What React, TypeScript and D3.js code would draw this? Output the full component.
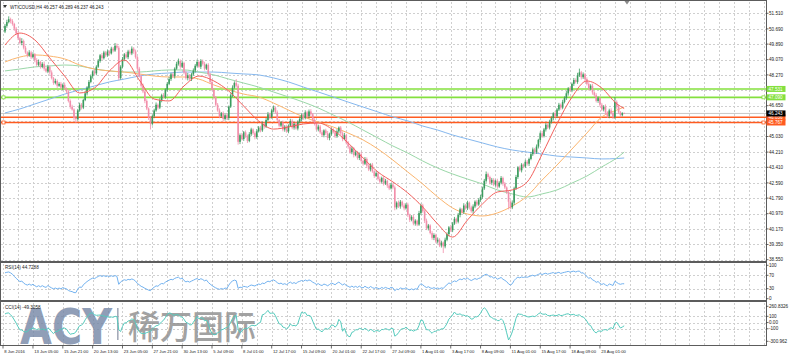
import React from "react";
import * as d3 from "d3";

const symbolTitle = "WTICOUSD,H4 46.257 46.289 46.237 46.243";
const rsiTitle = "RSI(14) 44.7288";
const cciTitle = "CCI(14) -49.3058";

// closes before the first visible bar (indicator warm-up only)
const priorCloses = [48.95, 49.2, 49.1, 49.45, 49.6, 49.35, 49.7, 49.9, 49.75, 50.05, 50.2, 50.0, 50.3, 50.45, 50.35, 50.55];
const firstOpen = 50.55;

const closes = [
  50.85, 51.05, 51.2, 51.1, 50.95, 50.7, 50.45, 50.2, 49.95, 50.05,
  49.7, 49.45, 49.3, 49.45, 49.2, 49.35, 49.05, 48.8, 48.95, 48.7,
  48.85, 48.6, 48.45, 48.7, 48.4, 48.1, 47.85, 47.95, 47.7, 47.8,
  47.6, 47.75, 47.55, 47.4, 46.9, 46.6, 46.45, 46.0, 45.95, 46.4,
  46.7, 46.55, 46.95, 47.3, 47.6, 47.9, 48.2, 48.45, 48.35, 48.7,
  49.0, 49.3, 49.15, 49.45, 49.3, 49.5, 49.4, 49.65, 49.55, 49.8,
  49.7, 48.1, 48.7, 49.1, 49.35, 49.2, 49.5, 49.4, 49.65, 49.5,
  49.2, 48.6, 48.2, 47.7, 47.4, 46.9, 46.5, 46.0, 45.7, 46.1,
  46.4, 46.7, 46.55, 46.95, 47.2, 47.1, 47.5, 47.8, 48.05, 48.3,
  48.2, 48.6, 48.85, 49.0, 48.7, 48.9, 48.4, 48.1, 48.25, 48.05,
  48.3, 48.5, 48.75, 48.95, 48.7, 49.0, 48.85, 48.6, 48.8, 48.3,
  47.9, 47.5, 47.1, 46.7, 46.4, 46.1, 46.25, 45.95, 46.15, 46.0,
  46.6, 47.2, 47.6, 47.85, 47.7, 44.75, 45.1, 44.9, 45.25, 45.05,
  44.8, 45.15, 45.4, 45.2, 45.0, 45.3, 45.5, 45.35, 45.7, 45.55,
  45.9, 46.2, 46.05, 46.4, 46.55, 46.3, 45.9, 45.6, 45.75, 45.4,
  45.55, 45.3, 45.6, 45.85, 45.5, 45.7, 45.45, 45.8, 45.95, 46.15,
  46.0, 46.3, 46.1, 46.35, 46.2, 45.9, 45.7, 45.4, 45.55, 45.25,
  45.1, 45.35, 45.2, 44.95, 45.15, 45.4, 45.25, 45.05, 45.3, 45.5,
  45.2, 44.9, 45.1, 44.7, 44.5, 44.2, 44.4, 44.05, 44.2, 43.9,
  44.1, 43.75, 43.6, 43.85, 43.5, 43.3, 43.55, 43.2, 42.95, 43.1,
  42.8, 42.65, 42.85, 42.55, 42.7, 42.45, 42.3, 42.5, 42.35, 41.3,
  41.55, 41.35, 41.6, 41.4, 41.25, 41.45, 40.9, 40.65, 40.8, 40.45,
  40.6, 40.4, 41.0, 41.4, 41.1, 40.6, 40.2, 40.35, 39.95, 39.7,
  39.85, 39.5, 39.6, 39.3, 39.45, 39.25, 39.6, 39.9, 40.25, 40.1,
  40.45, 40.7, 40.55, 40.9, 41.2, 41.05, 41.4, 41.25, 41.55, 41.3,
  41.1, 41.35, 41.6, 41.45, 41.7, 41.85, 42.3, 42.7, 43.05, 42.9,
  42.6, 42.75, 42.5, 42.7, 42.4, 42.6, 42.85, 42.55, 42.35, 42.1,
  41.6, 41.3, 41.55, 42.3, 42.9, 43.4, 43.25, 43.55, 43.45, 43.7,
  43.6, 43.85, 44.1, 44.35, 44.2, 44.5, 44.85, 45.2, 45.05, 45.4,
  45.65, 45.5, 45.8, 46.0, 46.25, 46.1, 46.45, 46.7, 46.55, 46.85,
  47.05, 47.3, 47.55, 47.45, 47.8, 48.0, 47.9, 48.25, 48.4, 48.15,
  48.3, 48.05, 47.8, 47.55, 47.7, 47.35, 47.2, 46.9, 47.05, 46.7,
  46.45, 46.6, 46.3, 46.1, 46.4, 46.25, 46.05, 46.85, 46.6, 46.3,
  46.15, 46.257, 46.243,
];

const upWick = [
  .10,.12,.15,.08,.10,.06,.09,.12,.07,.15, .08,.10,.06,.12,.09,.11,.07,.10,.13,.06,
  .09,.12,.08,.10,.07,.11,.06,.12,.08,.09, .10,.07,.12,.06,.09,.08,.10,.06,.12,.08,
  .11,.09,.07,.12,.08,.10,.09,.06,.13,.08, .10,.07,.12,.09,.08,.11,.06,.10,.09,.15,
  .12,.10,.08,.11,.07,.13,.09,.10,.12,.08, .10,.06,.09,.08,.11,.07,.09,.06,.10,.08,
  .09,.12,.07,.10,.08,.11,.06,.09,.12,.08, .10,.07,.11,.13,.08,.10,.06,.09,.12,.07,
  .08,.11,.09,.12,.07,.10,.08,.11,.06,.09, .07,.10,.08,.06,.09,.11,.07,.10,.08,.09,
  .06,.10,.12,.08,.20,.10,.09,.12,.07,.10, .08,.11,.09,.06,.10,.12,.08,.09,.11,.07,
  .10,.12,.08,.09,.11,.07,.10,.06,.09,.12, .08,.10,.07,.11,.09,.06,.10,.08,.12,.09,
  .07,.11,.08,.10,.12,.06,.09,.07,.10,.08, .11,.06,.09,.12,.08,.10,.07,.09,.11,.06,
  .08,.10,.12,.07,.09,.06,.11,.08,.10,.07, .09,.12,.06,.10,.08,.11,.07,.09,.06,.10,
  .08,.12,.07,.09,.10,.06,.11,.08,.09,.10, .07,.11,.09,.06,.12,.08,.10,.07,.09,.11,
  .08,.06,.12,.10,.09,.07,.11,.08,.06,.10, .09,.07,.12,.08,.10,.06,.11,.09,.07,.12,
  .08,.10,.06,.11,.09,.07,.12,.08,.10,.06, .09,.11,.07,.10,.08,.12,.09,.10,.14,.08,
  .07,.10,.09,.06,.11,.08,.10,.07,.09,.06, .10,.08,.12,.09,.11,.07,.10,.08,.06,.11,
  .09,.07,.12,.10,.08,.11,.06,.09,.12,.08, .10,.07,.11,.09,.06,.12,.08,.10,.07,.11,
  .09,.12,.08,.10,.07,.11,.09,.13,.20,.08, .10,.07,.09,.12,.08,.10,.06,.11,.09,.07,
  .10,.08,.12,.06,.09,.11,.07,.25,.08,.10, .07,.05,.032,
];

const dnWick = [
  .08,.10,.07,.12,.09,.11,.06,.10,.08,.12, .09,.07,.11,.08,.10,.06,.12,.09,.07,.10,
  .08,.11,.06,.09,.12,.07,.10,.08,.11,.06, .09,.12,.07,.10,.08,.11,.06,.12,.20,.09,
  .07,.10,.08,.06,.11,.09,.07,.12,.08,.10, .06,.09,.11,.07,.10,.08,.12,.06,.09,.07,
  .10,.12,.08,.09,.11,.06,.10,.07,.09,.12, .08,.10,.07,.11,.09,.12,.08,.10,.30,.09,
  .11,.07,.10,.08,.12,.06,.09,.11,.07,.10, .08,.12,.06,.09,.11,.07,.10,.08,.12,.09,
  .10,.07,.11,.08,.06,.12,.09,.10,.07,.11, .09,.08,.12,.10,.07,.11,.09,.12,.08,.10,
  .11,.07,.09,.06,.10,.15,.12,.08,.10,.09, .11,.07,.10,.08,.12,.09,.06,.10,.08,.11,
  .07,.09,.12,.08,.10,.06,.11,.09,.07,.10, .12,.08,.10,.07,.09,.11,.06,.10,.08,.12,
  .09,.07,.10,.12,.08,.11,.09,.06,.10,.08, .07,.11,.09,.10,.12,.08,.06,.10,.09,.11,
  .10,.12,.07,.09,.11,.08,.10,.12,.06,.09, .11,.08,.10,.07,.12,.09,.11,.08,.10,.06,
  .09,.11,.08,.10,.07,.12,.09,.06,.10,.15, .10,.08,.12,.09,.11,.07,.10,.12,.08,.09,
  .11,.09,.07,.10,.08,.12,.09,.11,.07,.10, .12,.08,.10,.09,.11,.35,.10,.08,.12,.09,
  .10,.07,.11,.09,.12,.08,.10,.07,.09,.11, .08,.12,.09,.10,.07,.11,.09,.08,.10,.12,
  .09,.11,.08,.10,.12,.07,.09,.11,.08,.10, .40,.10,.09,.12,.08,.10,.07,.11,.09,.08,
  .10,.12,.07,.09,.11,.08,.10,.12,.09,.07, .11,.08,.10,.09,.12,.07,.10,.08,.11,.09,
  .08,.10,.12,.07,.09,.11,.08,.10,.09,.12, .09,.11,.08,.10,.07,.12,.09,.08,.10,.11,
  .08,.10,.12,.09,.11,.07,.10,.09,.12,.08, .10,.06,.006,
];

// moving averages sampled every 8 bars
const maSampleBars = [0, 8, 16, 24, 32, 40, 48, 56, 64, 72, 80, 88, 96, 104, 112, 120, 128, 136, 144, 152, 160, 168, 176, 184, 192, 200, 208, 216, 224, 232, 240, 248, 256, 264, 272, 280, 288, 296, 304, 312, 320, 328, 332];
const maRed = [49.84, 50.47, 50.11, 49.16, 48.21, 47.32, 47.58, 48.48, 49.05, 48.0, 47.0, 46.9, 47.69, 48.21, 47.95, 47.42, 46.63, 45.85, 45.42, 45.53, 45.69, 45.74, 45.37, 44.69, 43.9, 43.16, 42.64, 42.06, 41.32, 40.43, 39.74, 40.64, 41.48, 42.11, 42.22, 42.64, 44.1, 45.7, 47.1, 47.95, 47.58, 46.75, 46.5];
const maOrange = [48.95, 49.21, 49.32, 49.26, 49.11, 48.79, 48.58, 48.48, 48.42, 48.32, 48.21, 48.16, 48.16, 48.05, 47.74, 47.48, 47.26, 47.11, 46.79, 46.42, 46.06, 45.79, 45.53, 45.21, 44.85, 44.37, 43.79, 43.16, 42.53, 41.85, 41.27, 40.95, 40.85, 41.01, 41.37, 41.9, 42.74, 43.53, 44.37, 45.21, 46.06, 46.42, 46.58];
const maGreen = [48.48, 48.58, 48.69, 48.74, 48.79, 48.74, 48.58, 48.48, 48.42, 48.42, 48.48, 48.53, 48.53, 48.42, 48.27, 48.05, 47.84, 47.63, 47.37, 47.11, 46.84, 46.53, 46.16, 45.79, 45.37, 44.95, 44.53, 44.16, 43.74, 43.37, 43.06, 42.79, 42.53, 42.22, 42.01, 41.85, 42.01, 42.22, 42.58, 42.95, 43.43, 43.9, 44.21];
const maBlue = [46.27, 46.48, 46.74, 47.0, 47.26, 47.48, 47.69, 47.9, 48.05, 48.21, 48.32, 48.37, 48.42, 48.42, 48.42, 48.37, 48.32, 48.27, 48.11, 47.9, 47.63, 47.37, 47.11, 46.84, 46.58, 46.32, 46.06, 45.85, 45.58, 45.37, 45.11, 44.9, 44.69, 44.48, 44.32, 44.21, 44.11, 44.0, 43.95, 43.9, 43.85, 43.87, 43.9];

const priceTicks = [51.51, 50.69, 49.89, 49.07, 48.27, 47.45, 46.65, 45.83, 45.03, 44.21, 43.41, 42.59, 41.79, 40.97, 40.17, 39.35, 38.55];
const hiddenPriceLabels = [47.45, 45.83];
const greenLevels = [47.531, 47.09];
const orangeLevels = [46.036, 45.767];
const bidPrice = 46.243;

const rsiTicks = [100, 70, 30, 0];
const rsiGrid = [70, 30];
const cciTicks = [260.8326, 100, 0, -100, -300.962];
const cciTickLabels = ["260.8326", "100", "0.00", "-100", "-300.962"];
const cciGrid = [100, 0, -100];

const timeLabels = ["8 Jun 2016", "13 Jun 05:00", "15 Jun 21:00", "20 Jun 13:00", "23 Jun 05:00", "27 Jun 21:00", "30 Jun 13:00", "5 Jul 09:00", "8 Jul 01:00", "12 Jul 17:00", "15 Jul 09:00", "20 Jul 01:00", "22 Jul 17:00", "27 Jul 09:00", "1 Aug 01:00", "3 Aug 17:00", "8 Aug 09:00", "11 Aug 01:00", "15 Aug 17:00", "18 Aug 09:00", "23 Aug 01:00"];
const timeLabelBars = [0, 15, 31, 47, 63, 79, 95, 111, 127, 143, 159, 175, 191, 207, 223, 239, 255, 271, 287, 303, 319];

const FONT = "'Liberation Sans', Arial, sans-serif";
const FS = 4.6;
const FS_TIME = 4.2;
const AXIS_X = 766;

function computeRSI(c: number[], n: number) {
  const out: (number | null)[] = c.map(() => null);
  let g = 0, l = 0;
  for (let i = 1; i <= n; i++) {
    const d = c[i] - c[i - 1];
    if (d > 0) g += d; else l -= d;
  }
  g /= n; l /= n;
  out[n] = l === 0 ? 100 : 100 - 100 / (1 + g / l);
  for (let i = n + 1; i < c.length; i++) {
    const d = c[i] - c[i - 1];
    g = (g * (n - 1) + Math.max(d, 0)) / n;
    l = (l * (n - 1) + Math.max(-d, 0)) / n;
    out[i] = l === 0 ? 100 : 100 - 100 / (1 + g / l);
  }
  return out;
}

function computeCCI(tp: number[], n: number) {
  const out: (number | null)[] = tp.map(() => null);
  for (let i = n - 1; i < tp.length; i++) {
    const w = tp.slice(i - n + 1, i + 1);
    const m = d3.mean(w) as number;
    const md = d3.mean(w, (v) => Math.abs(v - m)) as number;
    out[i] = md === 0 ? 0 : (tp[i] - m) / (0.015 * md);
  }
  return out;
}

export default function App() {
  const n = closes.length;
  const opens = closes.map((c, i) => (i === 0 ? firstOpen : closes[i - 1]));
  const highs = closes.map((c, i) => Math.max(opens[i], c) + upWick[i]);
  const lows = closes.map((c, i) => Math.min(opens[i], c) - dnWick[i]);

  const P = priorCloses.length;
  const rsiVals = computeRSI([...priorCloses, ...closes], 14).slice(P);
  const tp = [...priorCloses, ...closes.map((c, i) => (highs[i] + lows[i] + c) / 3)];
  const cciVals = computeCCI(tp, 14).slice(P);

  const x = d3.scaleLinear().domain([0, n - 1]).range([5, 5 + (n - 1) * 1.865]);
  const y = d3.scaleLinear().domain([38.55, 51.51]).range([259.7, 13.3]);
  const yR = d3.scaleLinear().domain([0, 100]).range([298.7, 265.3]);
  const yC = d3.scaleLinear().domain([-300.962, 260.8326]).range([341.3, 306.3]);

  const gridBars: number[] = [];
  for (let b = -1; x(b) < AXIS_X - 1; b += 8) gridBars.push(b);

  const maLine = d3
    .line<number>()
    .x((_, i) => x(maSampleBars[i]))
    .y((v) => y(v))
    .curve(d3.curveMonotoneX);

  const rsiLine = d3
    .line<number | null>()
    .defined((v) => v !== null)
    .x((_, i) => x(i))
    .y((v) => yR(v as number));
  const cciLine = d3
    .line<number | null>()
    .defined((v) => v !== null)
    .x((_, i) => x(i))
    .y((v) => yC(v as number));

  const gridStroke = "#cfcfcf";
  const frame = "#5c5c5c";

  const panels = [
    { top: 0.5, bottom: 261.5 },
    { top: 262.5, bottom: 300.5 },
    { top: 301.5, bottom: 345.5 },
  ];

  const bull = "#3b9b5e";
  const bear = "#f28fab";

  const labelBox = (v: number, fill: string, key: string, text: string) => (
    <g key={key}>
      <rect x={AXIS_X + 0.5} y={y(v) - 3} width={19} height={6} fill={fill} />
      <text x={AXIS_X + 2.5} y={y(v)} dy="0.35em" fontSize={FS} fontFamily={FONT} fill="#ffffff">
        {text}
      </text>
    </g>
  );

  return (
    <svg
      width={793}
      height={356}
      viewBox="0 0 793 356"
      style={{ position: "absolute", left: 0, top: 0, display: "block", background: "#ffffff" }}
    >
      <defs>
        <clipPath id="clipMain">
          <rect x={1} y={1} width={AXIS_X - 1} height={260} />
        </clipPath>
        <clipPath id="clipRsi">
          <rect x={1} y={263} width={AXIS_X - 1} height={37} />
        </clipPath>
        <clipPath id="clipCci">
          <rect x={1} y={302} width={AXIS_X - 1} height={43} />
        </clipPath>
      </defs>
      <rect x={0} y={0} width={793} height={356} fill="#ffffff" />

      {/* grid */}
      <g stroke={gridStroke} strokeDasharray="2,2" shapeRendering="crispEdges">
        {panels.map((p, pi) =>
          gridBars.map((b) => (
            <line key={`vg${pi}-${b}`} x1={Math.round(x(b)) + 0.5} x2={Math.round(x(b)) + 0.5} y1={p.top + 1} y2={p.bottom - 1} />
          ))
        )}
        {priceTicks.map((v) => (
          <line key={`hg${v}`} x1={1} x2={AXIS_X} y1={Math.round(y(v)) + 0.5} y2={Math.round(y(v)) + 0.5} />
        ))}
        {rsiGrid.map((v) => (
          <line key={`rg${v}`} x1={1} x2={AXIS_X} y1={Math.round(yR(v)) + 0.5} y2={Math.round(yR(v)) + 0.5} />
        ))}
        {cciGrid.map((v) => (
          <line key={`cg${v}`} x1={1} x2={AXIS_X} y1={Math.round(yC(v)) + 0.5} y2={Math.round(yC(v)) + 0.5} />
        ))}
      </g>

      {/* watermark */}
      <g opacity={0.8}>
        <text x={20} y={344} fontFamily="'DejaVu Sans', sans-serif" fontWeight="bold" fontSize={50} fill="#7587a6" textLength={92} lengthAdjust="spacingAndGlyphs">
          ACY
        </text>
        <rect x={117} y={308} width={1.6} height={32} fill="#8f97a8" />
        <text x={128} y={339} fontFamily="'Noto Sans CJK SC', sans-serif" fontWeight={500} fontSize={33} fill="#8c8c8c" textLength={128} lengthAdjust="spacingAndGlyphs">
          稀万国际
        </text>
      </g>

      {/* main panel content */}
      <g clipPath="url(#clipMain)">
        <line x1={1} x2={AXIS_X} y1={y(bidPrice)} y2={y(bidPrice)} stroke="#c8c8c8" strokeWidth={1} />
        {greenLevels.map((v) => (
          <line key={`gl${v}`} x1={1} x2={AXIS_X} y1={y(v)} y2={y(v)} stroke="#84e03e" strokeWidth={1.6} />
        ))}
        {orangeLevels.map((v) => (
          <line key={`ol${v}`} x1={1} x2={AXIS_X} y1={y(v)} y2={y(v)} stroke="#ff5b20" strokeWidth={1.5} />
        ))}
        <path d={maLine(maBlue) || ""} fill="none" stroke="#86b8ee" strokeWidth={1} />
        <path d={maLine(maGreen) || ""} fill="none" stroke="#9ad7a8" strokeWidth={1} />
        <path d={maLine(maOrange) || ""} fill="none" stroke="#fbb56e" strokeWidth={1} />
        {closes.map((c, i) => {
          const o = opens[i];
          const col = c >= o ? bull : bear;
          const cx = x(i);
          const top = y(Math.max(o, c));
          const bot = y(Math.min(o, c));
          return (
            <g key={`c${i}`}>
              <line x1={cx} x2={cx} y1={y(highs[i])} y2={y(lows[i])} stroke={col} strokeWidth={0.8} />
              <rect x={cx - 0.8} y={top} width={1.6} height={Math.max(0.8, bot - top)} fill={col} />
            </g>
          );
        })}
        <path d={maLine(maRed) || ""} fill="none" stroke="#f2605c" strokeWidth={1} />
        {/* anchors */}
        <rect x={2} y={y(greenLevels[1]) - 1.5} width={3} height={3} fill="#ffffff" stroke="#84e03e" strokeWidth={0.8} />
        <rect x={AXIS_X - 4} y={y(greenLevels[1]) - 1.5} width={3} height={3} fill="#ffffff" stroke="#84e03e" strokeWidth={0.8} />
        <rect x={2} y={y(orangeLevels[1]) - 1.5} width={3} height={3} fill="#ffffff" stroke="#ff5b20" strokeWidth={0.8} />
        <rect x={AXIS_X - 4} y={y(orangeLevels[1]) - 1.5} width={3} height={3} fill="#ffffff" stroke="#ff5b20" strokeWidth={0.8} />
      </g>

      {/* RSI */}
      <g clipPath="url(#clipRsi)">
        <path d={rsiLine(rsiVals) || ""} fill="none" stroke="#72b2f0" strokeWidth={1} />
      </g>
      {/* CCI */}
      <g clipPath="url(#clipCci)">
        <path d={cciLine(cciVals) || ""} fill="none" stroke="#55cbbd" strokeWidth={1} />
      </g>

      {/* frames */}
      <g fill="none" stroke={frame} strokeWidth={1} shapeRendering="crispEdges">
        {panels.map((p, i) => (
          <rect key={`f${i}`} x={0.5} y={p.top} width={AXIS_X - 0.5} height={p.bottom - p.top} />
        ))}
        <line x1={AXIS_X + 0.5} x2={AXIS_X + 0.5} y1={0} y2={346} strokeWidth={1.5} />
      </g>

      {/* titles */}
      <path d="M3,5 L7,5 L5,8 Z" fill="#333" />
      <text x={10} y={9} fontSize={FS} fontFamily={FONT} fill="#222">
        {symbolTitle}
      </text>
      <path d="M624.5,1 L629.5,1 L627,4.5 Z" fill="#8a8a8a" />
      <text x={5} y={268.5} fontSize={FS} fontFamily={FONT} fill="#222">
        {rsiTitle}
      </text>
      <text x={5} y={309} fontSize={FS} fontFamily={FONT} fill="#222">
        {cciTitle}
      </text>

      {/* right axis labels */}
      <g fontSize={FS} fontFamily={FONT} fill="#222">
        {priceTicks
          .filter((v) => !hiddenPriceLabels.includes(v))
          .map((v) => (
            <g key={`pt${v}`}>
              <line x1={AXIS_X} x2={AXIS_X + 2.5} y1={y(v)} y2={y(v)} stroke="#444" strokeWidth={0.8} />
              <text x={AXIS_X + 3} y={y(v)} dy="0.35em">
                {v.toFixed(3)}
              </text>
            </g>
          ))}
        {rsiTicks.map((v) => (
          <g key={`rt${v}`}>
            <line x1={AXIS_X} x2={AXIS_X + 2.5} y1={yR(v)} y2={yR(v)} stroke="#444" strokeWidth={0.8} />
            <text x={AXIS_X + 3} y={yR(v)} dy="0.35em">
              {v}
            </text>
          </g>
        ))}
        {cciTicks.map((v, i) => (
          <g key={`ct${v}`}>
            <line x1={AXIS_X} x2={AXIS_X + 2.5} y1={yC(v)} y2={yC(v)} stroke="#444" strokeWidth={0.8} />
            <text x={AXIS_X + 3} y={yC(v)} dy="0.35em">
              {cciTickLabels[i]}
            </text>
          </g>
        ))}
      </g>
      {greenLevels.map((v) => labelBox(v, "#84e03e", `gb${v}`, v.toFixed(3)))}
      {orangeLevels.map((v) => labelBox(v, "#ff5b20", `ob${v}`, v.toFixed(3)))}
      {labelBox(bidPrice, "#000000", "bid", bidPrice.toFixed(3))}

      {/* time axis */}
      <g fontSize={FS_TIME} fontFamily={FONT} fill="#222">
        {timeLabels.map((t, i) => {
          const tx = i === 0 ? 3 : x(timeLabelBars[i]);
          return (
            <g key={`tl${i}`}>
              <line x1={tx} x2={tx} y1={345.5} y2={348.5} stroke="#444" strokeWidth={0.8} />
              <text x={tx + 1.2} y={352.5}>
                {t}
              </text>
            </g>
          );
        })}
      </g>
    </svg>
  );
}
